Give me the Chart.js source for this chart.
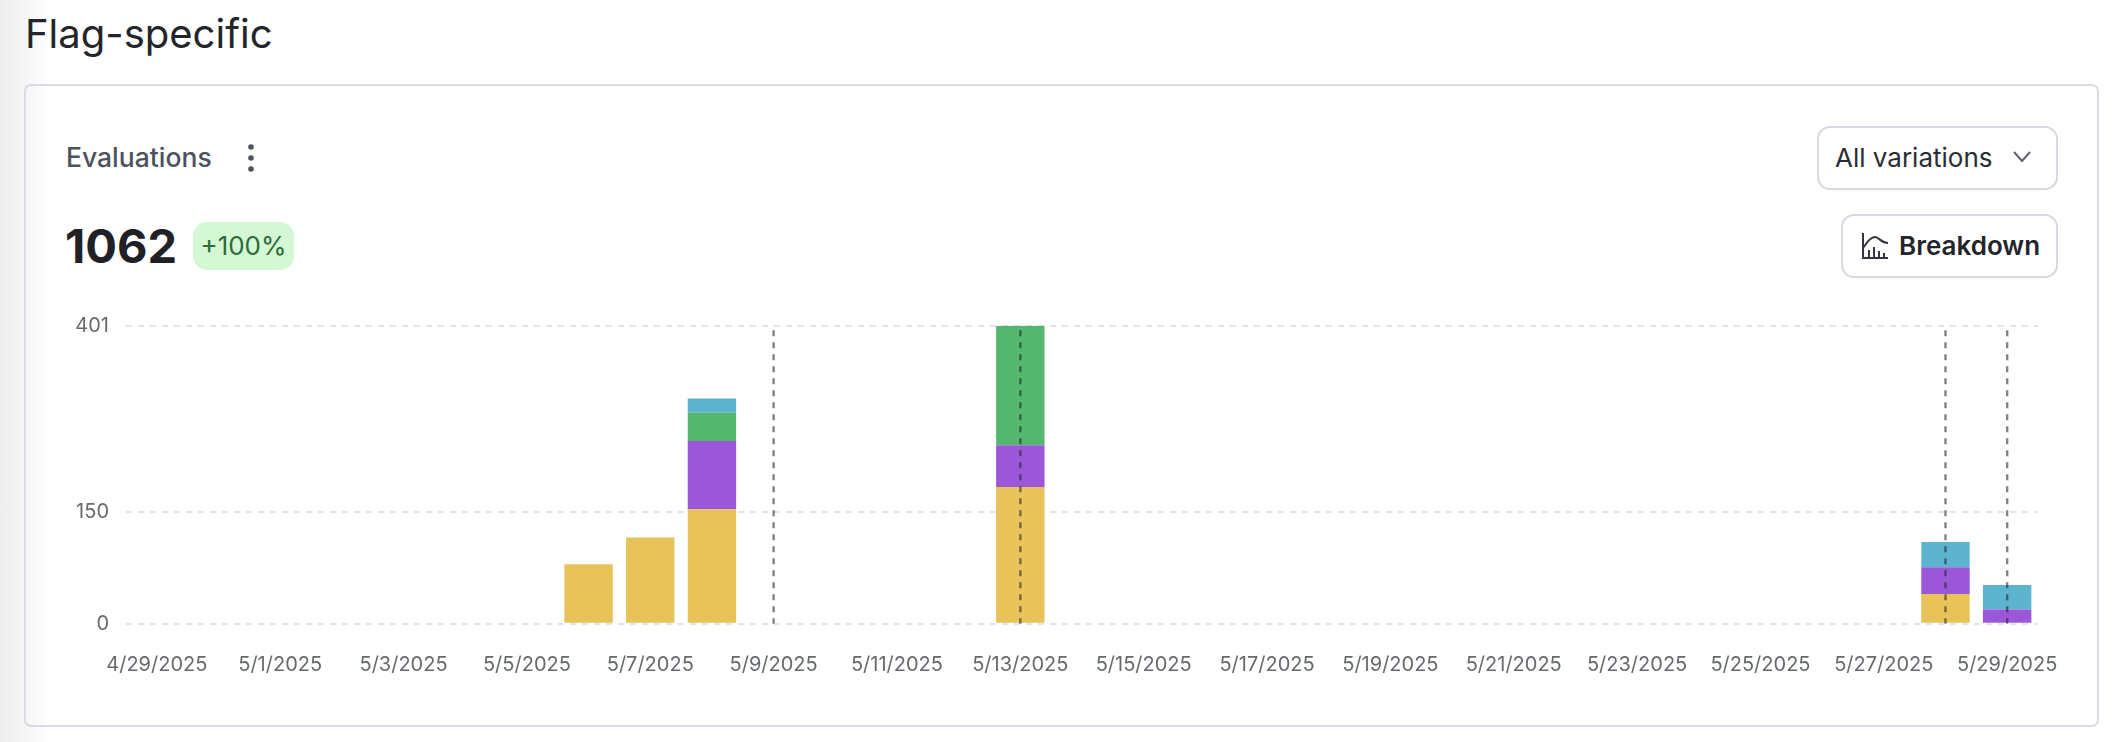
<!DOCTYPE html>
<html><head><meta charset="utf-8">
<script src="https://cdn.jsdelivr.net/npm/chart.js@4"></script>
<style>
html,body{margin:0;padding:0;width:2114px;height:742px;overflow:hidden;background:linear-gradient(to right,#eeeeee 0,#f4f4f4 22px,#ffffff 50px);font-family:Inter,sans-serif;}
.a{position:absolute;white-space:nowrap;}
#card{left:24px;top:84px;width:2071px;height:639px;border:2px solid #d8dbe3;border-radius:7px;}
.btn{border:2px solid #d5d9e0;border-radius:13px;background:#fff;box-sizing:border-box;}
#wrap{position:absolute;left:40px;top:300px;width:2020px;height:400px;}
</style></head><body>
<div class="a" style="left:25px;top:9px;font-size:40px;line-height:50px;color:#23252b;">Flag-specific</div>
<div class="a" id="card"></div>
<div class="a" style="left:66px;top:140px;font-size:26.5px;line-height:34px;font-weight:500;color:#4d535e;">Evaluations</div>
<svg class="a" style="left:244px;top:142px" width="14" height="32"><circle cx="7" cy="5" r="2.8" fill="#4d535e"/><circle cx="7" cy="16" r="2.8" fill="#4d535e"/><circle cx="7" cy="27" r="2.8" fill="#4d535e"/></svg>
<div class="a" style="left:65px;top:216px;font-size:47px;line-height:60px;font-weight:700;color:#1f2127;">1062</div>
<div class="a" style="left:193px;top:222px;width:101px;height:48px;border-radius:14px;background:#d3f8d3;color:#2d6b3a;font-size:26px;line-height:48px;text-align:center;">+100%</div>
<div class="a btn" style="left:1817px;top:126px;width:241px;height:64px;"></div>
<div class="a" style="left:1835px;top:140px;font-size:26px;line-height:36px;color:#2a2d34;">All variations</div>
<svg class="a" style="left:2012px;top:150px" width="20" height="14"><path d="M2 2 L10 11 L18 2" fill="none" stroke="#5d626c" stroke-width="2"/></svg>
<div class="a btn" style="left:1841px;top:214px;width:217px;height:64px;"></div>
<svg class="a" style="left:1861px;top:232px" width="28" height="28" fill="none" stroke="#33363d" stroke-width="2"><path d="M2 1 V26 H27"/><path d="M2 16 C7 9 10 5 14 5 C18 5 20 11 27 11"/><path d="M8 25 V18 M13 25 V15 M18 25 V19 M23 25 V21"/></svg>
<div class="a" style="left:1899px;top:228px;font-size:26px;line-height:36px;font-weight:600;color:#23252b;">Breakdown</div>
<div id="wrap"><canvas id="c" width="2020" height="400" style="width:2020px;height:400px"></canvas></div>
<script>
const categories = ["4/29/2025","4/30/2025","5/1/2025","5/2/2025","5/3/2025","5/4/2025","5/5/2025","5/6/2025","5/7/2025","5/8/2025","5/9/2025","5/10/2025","5/11/2025","5/12/2025","5/13/2025","5/14/2025","5/15/2025","5/16/2025","5/17/2025","5/18/2025","5/19/2025","5/20/2025","5/21/2025","5/22/2025","5/23/2025","5/24/2025","5/25/2025","5/26/2025","5/27/2025","5/28/2025","5/29/2025"];
const yellowValues = [null,null,null,null,null,null,null,80,116,154,null,null,null,null,184,null,null,null,null,null,null,null,null,null,null,null,null,null,null,40,null];
const purpleValues = [null,null,null,null,null,null,null,null,null,92,null,null,null,null,56,null,null,null,null,null,null,null,null,null,null,null,null,null,null,36,19];
const greenValues  = [null,null,null,null,null,null,null,null,null,38,null,null,null,null,161,null,null,null,null,null,null,null,null,null,null,null,null,null,null,null,null];
const blueValues   = [null,null,null,null,null,null,null,null,null,19,null,null,null,null,null,null,null,null,null,null,null,null,null,null,null,null,null,null,null,34,33];
const markerDates = ["5/9/2025","5/13/2025","5/28/2025","5/29/2025"];
const markerSpan = [395,0];
const yTicks = [0,150,401];
const xTickLabels = ["4/29/2025","5/1/2025","5/3/2025","5/5/2025","5/7/2025","5/9/2025","5/11/2025","5/13/2025","5/15/2025","5/17/2025","5/19/2025","5/21/2025","5/23/2025","5/25/2025","5/27/2025","5/29/2025"];

const bar=(label,data,color)=>({type:'bar',label,data,backgroundColor:color,borderWidth:0,barPercentage:0.785,categoryPercentage:1,order:2,stack:'v'});
const markers=markerDates.map((d,i)=>({type:'line',label:'marker '+d,data:markerSpan.map(y=>({x:d,y})),borderColor:'rgba(30,30,35,0.55)',borderWidth:2.4,borderDash:[6,6],pointRadius:0,fill:false,order:1,stack:'m'+i,clip:false}));
new Chart(document.getElementById('c'),{
  data:{labels:categories,datasets:[
    bar('Variation 1',yellowValues,'#E7C35A'),
    bar('Variation 2',purpleValues,'#9A58D8'),
    bar('Variation 3',greenValues,'#54B770'),
    bar('Variation 4',blueValues,'#5DB4CF'),
    ...markers]},
  options:{responsive:false,animation:false,devicePixelRatio:1,
    layout:{padding:{top:25.7,right:22,left:0,bottom:0}},
    plugins:{legend:{display:false},tooltip:{enabled:false},title:{display:false}},
    scales:{
      x:{type:'category',stacked:true,offset:true,
        grid:{display:false},border:{display:false},
        afterFit(s){s.height=76.3;s.paddingLeft=0;s.paddingRight=0;},
        ticks:{autoSkip:false,maxRotation:0,minRotation:0,padding:21,color:'#666a6e',font:{family:'Inter',size:20},
          callback(v){const l=this.getLabelForValue(v);return xTickLabels.includes(l)?l:'';}}},
      y:{type:'linear',stacked:true,min:0,max:401,
        afterFit(s){s.width=86;s.paddingTop=0;s.paddingBottom=0;},
        afterBuildTicks(s){s.ticks=yTicks.map(value=>({value}));},
        grid:{color:'#e4e4e4',lineWidth:2,drawTicks:false},
        border:{display:false,dash:[6,6]},
        ticks:{padding:17,color:'#666a6e',font:{family:'Inter',size:20}}}
    }
  }
});
</script>
</body></html>
